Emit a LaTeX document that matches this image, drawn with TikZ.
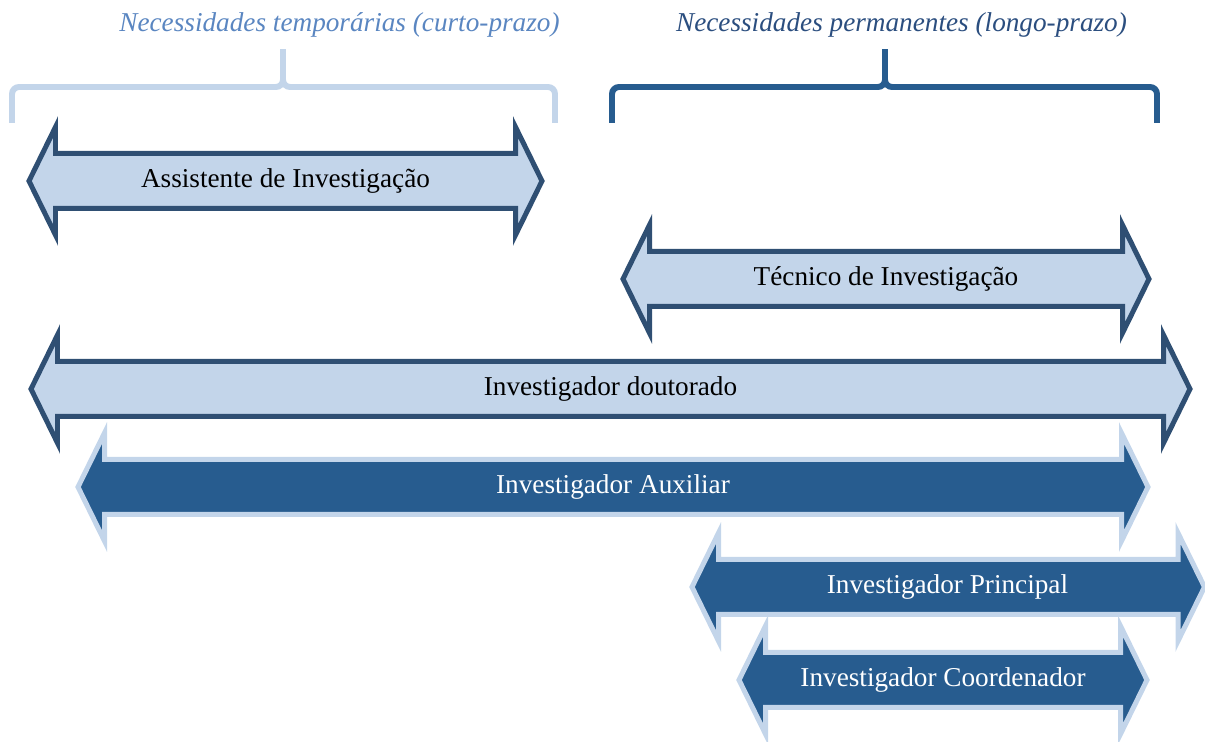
\documentclass[tikz,border=0pt]{standalone}
\usepackage{fontspec}
\setmainfont{Liberation Serif}
\usepackage{xcolor}

\definecolor{lightfill}{HTML}{C3D5EA}
\definecolor{darkline}{HTML}{2F4F73}
\definecolor{darkfill}{HTML}{275C8F}
\definecolor{headlight}{HTML}{5A86C1}
\definecolor{headdark}{HTML}{2B4E7F}

\begin{document}
\begin{tikzpicture}[x=0.02cm, y=-0.02cm,
  lightarrow/.style={draw=darkline, fill=lightfill, line width=1mm},
  darkarrow/.style={draw=lightfill, fill=darkfill, line width=1mm},
  rolename/.style={anchor=base, font=\fontsize{15.5}{18}\selectfont},
  needs/.style={anchor=base, font=\itshape\fontsize{15.5}{18}\selectfont},
  brace/.style={line width=3.4pt, rounded corners=4pt}]
\useasboundingbox (0,0) rectangle (1205,742);

% Braces for the two kinds of needs
\node[needs, text=headlight] (shortterm) at (339.5,32) {Necessidades temporárias (curto-prazo)};
\draw[brace, draw=lightfill] (12,123) -- (12,87) -- (283,87) -- (283,45) -- (283,87) -- (555,87) -- (555,123);

\node[needs, text=headdark] (longterm) at (901.5,32) {Necessidades permanentes (longo-prazo)};
\draw[brace, draw=darkfill] (612,123) -- (612,87) -- (885,87) -- (885,45) -- (885,87) -- (1157,87) -- (1157,123);

% Light arrows with dark outline
\draw[lightarrow] (29,181) -- (55.5,127) -- (55.5,153.5) -- (515.5,153.5) -- (515.5,127) -- (542,181) -- (515.5,235) -- (515.5,208.5) -- (55.5,208.5) -- (55.5,235) -- cycle;
\node[rolename, text=black] (assistente) at (285.5,188) {Assistente de Investigação};

\draw[lightarrow] (623,279) -- (649.5,225) -- (649.5,251.5) -- (1122.5,251.5) -- (1122.5,225) -- (1149,279) -- (1122.5,333) -- (1122.5,306.5) -- (649.5,306.5) -- (649.5,333) -- cycle;
\node[rolename, text=black] (tecnico) at (886,286) {Técnico de Investigação};

\draw[lightarrow] (31,389) -- (57.5,335) -- (57.5,361.5) -- (1163.5,361.5) -- (1163.5,335) -- (1190,389) -- (1163.5,443) -- (1163.5,416.5) -- (57.5,416.5) -- (57.5,443) -- cycle;
\node[rolename, text=black] (doutorado) at (610.5,396) {Investigador doutorado};

% Dark arrows with light outline
\draw[darkarrow] (78,487) -- (104.5,433) -- (104.5,459.5) -- (1121.5,459.5) -- (1121.5,433) -- (1148,487) -- (1121.5,541) -- (1121.5,514.5) -- (104.5,514.5) -- (104.5,541) -- cycle;
\node[rolename, text=white] (auxiliar) at (613,494) {Investigador Auxiliar};

\draw[darkarrow] (692,587) -- (718.5,533) -- (718.5,559.5) -- (1178,559.5) -- (1178,533) -- (1204.5,587) -- (1178,641) -- (1178,614.5) -- (718.5,614.5) -- (718.5,641) -- cycle;
\node[rolename, text=white] (principal) at (947.5,594) {Investigador Principal};

\draw[darkarrow] (739,680) -- (765.5,626) -- (765.5,652.5) -- (1120.5,652.5) -- (1120.5,626) -- (1147,680) -- (1120.5,734) -- (1120.5,707.5) -- (765.5,707.5) -- (765.5,734) -- cycle;
\node[rolename, text=white] (coordenador) at (943,687) {Investigador Coordenador};

\end{tikzpicture}
\end{document}
